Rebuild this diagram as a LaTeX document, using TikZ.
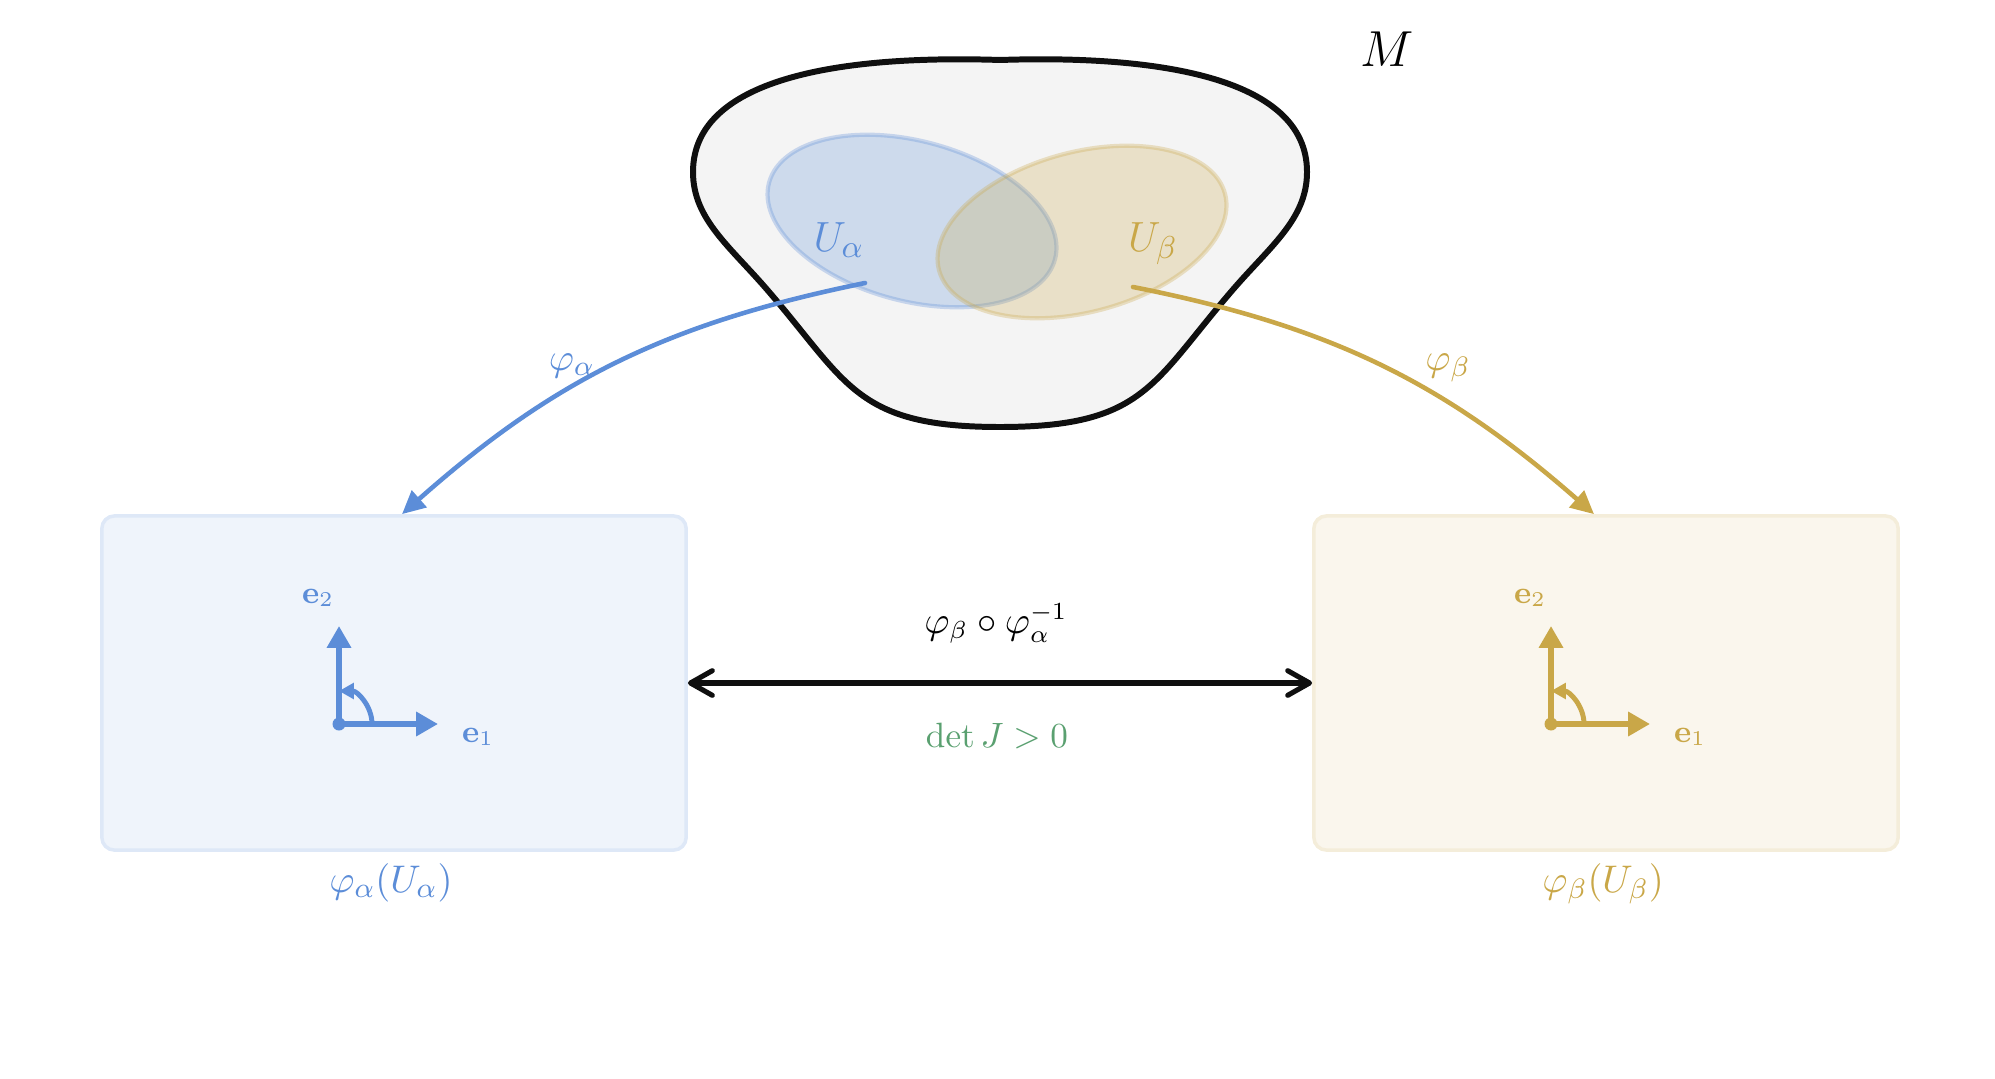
\documentclass[tikz,border=0pt]{standalone}
\usetikzlibrary{arrows.meta,calc}
\definecolor{cblue}{RGB}{92,141,216}
\definecolor{cgold}{RGB}{201,167,72}
\definecolor{cgreen}{RGB}{90,160,112}
\definecolor{blobfill}{RGB}{244,244,244}
\definecolor{blobline}{RGB}{15,15,15}
\begin{document}
\begin{tikzpicture}[x=0.01cm,y=0.01cm,
  chartbox/.style={draw, rounded corners=3.6pt, minimum width=5.84cm, minimum height=3.34cm, line width=1pt, inner sep=0pt},
  maparrow/.style={line width=1.3pt, line cap=round, -{Triangle[length=6.6pt,width=6.2pt]}},
  basisarrow/.style={line width=1.7pt, -{Triangle[length=6.2pt,width=6.6pt]}},
  orient/.style={line width=1.4pt, -{Triangle[length=4.2pt,width=4.4pt]}},
  lab/.style={inner sep=0pt, anchor=base},
  openset/.style={line width=1.2pt, fill opacity=0.25, draw opacity=0.3},
  transarrow/.style={line width=1.45pt, {Straight Barb[length=6.2pt,width=7pt,round]}-{Straight Barb[length=6.2pt,width=7pt,round]}},
]
\useasboundingbox (0,0) rectangle (1995,1078);

% manifold M
\draw[line width=1.7pt, draw=blobline, fill=blobfill]
  (1000,1018) .. controls (1150,1023) and (1307,1003) .. (1307,906)
  .. controls (1307,858) and (1269,831) .. (1230,785)
  .. controls (1152,694) and (1143,651) .. (1000,651)
  .. controls (857,651) and (848,694) .. (770,785)
  .. controls (731,831) and (693,858) .. (693,906)
  .. controls (693,1003) and (850,1023) .. (1000,1018) -- cycle;

% open sets
\draw[openset, draw=cblue, fill=cblue, rotate around={-15:(912,857)}] (912,857) ellipse [x radius=148, y radius=80];
\draw[openset, draw=cgold, fill=cgold, rotate around={15:(1082,846)}] (1082,846) ellipse [x radius=148, y radius=80];

\node[lab, font=\fontsize{15.5}{18}\selectfont] (M) at (1387,1011) {$M$};
\node[lab, text=cblue, font=\fontsize{12.3}{14}\selectfont] (Ua) at (839,827) {$U_\alpha$};
\node[lab, text=cgold, font=\fontsize{12.3}{14}\selectfont] (Ub) at (1153,827) {$U_\beta$};

\coordinate (sa) at (865,795);
\coordinate (sb) at (1133,791);

% chart boxes
\node[chartbox, draw=cblue!20, fill=cblue!10] (boxL) at (394,395) {};
\node[chartbox, draw=cgold!20, fill=cgold!10] (boxR) at (1606,395) {};

% chart maps
\draw[maparrow, cblue] (sa) to[bend right=15] ([xshift=0.08cm]boxL.north);
\draw[maparrow, cgold] (sb) to[bend left=15] ([xshift=-0.12cm]boxR.north);
\node[lab, text=cblue, font=\fontsize{10.8}{13}\selectfont] (pa) at (572,708) {$\varphi_\alpha$};
\node[lab, text=cgold, font=\fontsize{10.8}{13}\selectfont] (pb) at (1448,708) {$\varphi_\beta$};

% transition map
\draw[transarrow, blobline] (boxL.east) -- (boxR.west);
\node[lab, font=\fontsize{10.6}{13}\selectfont] (tr) at (996,445) {$\varphi_\beta\circ\varphi_\alpha^{-1}$};
\node[lab, text=cgreen, font=\fontsize{10.1}{12}\selectfont] (dj) at (997,331) {$\det J>0$};

% box labels
\node[lab, text=cblue, font=\fontsize{11.2}{13}\selectfont] (la) at (391,186) {$\varphi_\alpha(U_\alpha)$};
\node[lab, text=cgold, font=\fontsize{11.2}{13}\selectfont] (lb) at (1603,186) {$\varphi_\beta(U_\beta)$};

% frames
\foreach \b/\c/\n in {boxL/cblue/L, boxR/cgold/R}{
  \coordinate (o\n) at ($(\b.center)+(-55,-41)$);
  \coordinate (x\n) at ($(o\n)+(99,0)$);
  \coordinate (y\n) at ($(o\n)+(0,98)$);
  \coordinate (a\n) at ($(o\n)+(33,0)$);
  \draw[basisarrow, \c] (o\n) -- (x\n);
  \draw[basisarrow, \c] (o\n) -- (y\n);
  \draw[orient, \c] (a\n) arc[start angle=0, end angle=90, radius=33];
  \fill[\c] (o\n) circle (6.5);
  \node[lab, text=\c, font=\fontsize{8.8}{10}\selectfont] (eb\n) at ($(o\n)+(-21,121)$) {$\mathbf{e}_2$};
  \node[lab, text=\c, font=\fontsize{8.8}{10}\selectfont] (ea\n) at ($(o\n)+(139,-18)$) {$\mathbf{e}_1$};
}
\end{tikzpicture}
\end{document}
